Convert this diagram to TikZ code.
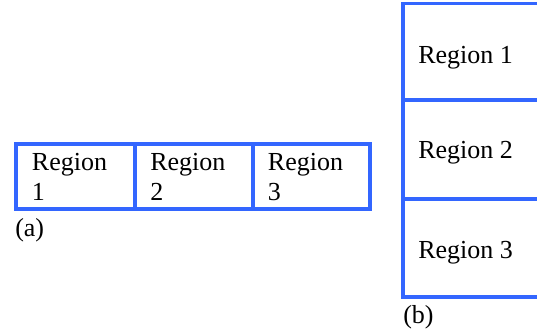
\documentclass[tikz,border=0pt]{standalone}
\usepackage{fontspec}
\setmainfont{Liberation Serif}
\definecolor{cellblue}{RGB}{51,102,255}
\tikzset{
  cellline/.style={draw=cellblue, line width=2.6pt},
  lbl/.style={anchor=base west, inner sep=0pt, font=\fontsize{19.5pt}{22.5pt}\selectfont, align=left},
}
\begin{document}
\begin{tikzpicture}[x=0.75pt,y=-0.75pt]
\useasboundingbox (0,0) rectangle (537,336);
% (a)
\draw[cellline] (16,144) rectangle (135,209);
\draw[cellline] (135,144) rectangle (253,209);
\draw[cellline] (253,144) rectangle (370,209);
\node[lbl] (a1) at (31.7,200.7) {Region\\1};
\node[lbl] (a2) at (150,200.7) {Region\\2};
\node[lbl] (a3) at (267.7,200.7) {Region\\3};
\node[lbl] (la) at (15,236) {(a)};
% (b)
\draw[cellline] (403,3.5) rectangle (550,100);
\draw[cellline] (403,100) rectangle (550,199);
\draw[cellline] (403,199) rectangle (550,297);
\node[lbl] (b1) at (418,63.3) {Region 1};
\node[lbl] (b2) at (418,158.3) {Region 2};
\node[lbl] (b3) at (418,258.3) {Region 3};
\node[lbl] (lb) at (403,323) {(b)};
\end{tikzpicture}
\end{document}
